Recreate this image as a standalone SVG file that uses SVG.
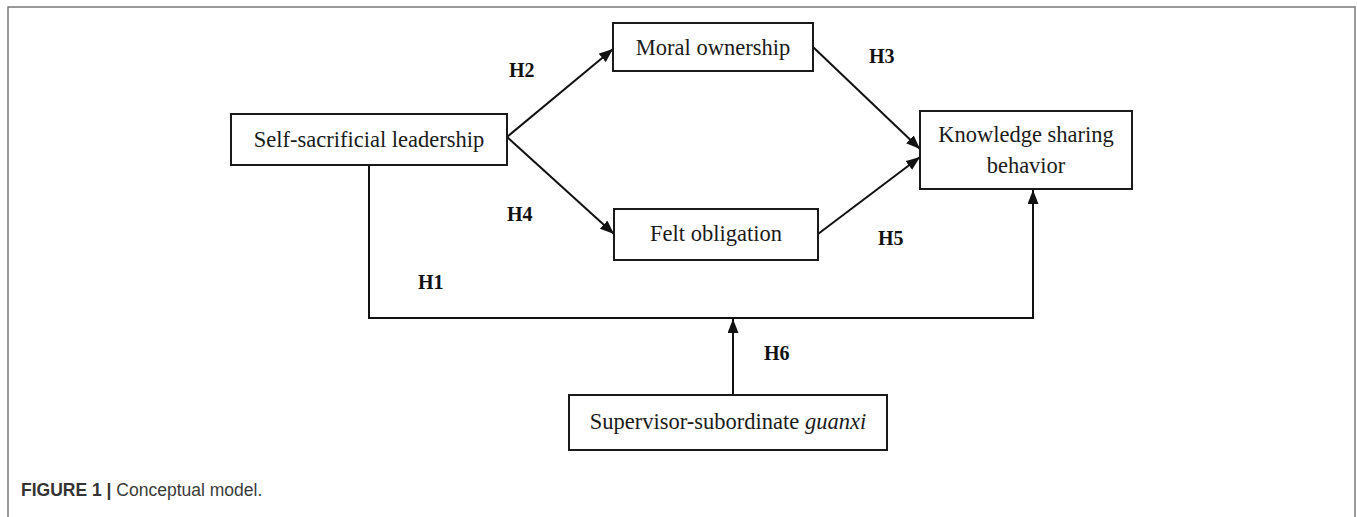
<svg xmlns="http://www.w3.org/2000/svg" width="1357" height="517" viewBox="0 0 1357 517">
<defs>
<style>
.box{fill:#fff;stroke:#1a1a1a;stroke-width:2}
.lbl{font-family:"Liberation Serif",serif;font-size:22.5px;fill:#1a1a1a;text-anchor:middle}
.h{font-family:"Liberation Serif",serif;font-size:20px;font-weight:bold;fill:#111}
.con{fill:none;stroke:#111;stroke-width:2}
.cap{font-family:"Liberation Sans",Arial,sans-serif;font-size:17.5px;fill:#3a3a3a}
</style>
<marker id="arr" viewBox="0 0 14 11" refX="14" refY="5.5" markerWidth="14" markerHeight="11" markerUnits="userSpaceOnUse" orient="auto">
<path d="M0,0 L14,5.5 L0,11 Z" fill="#111"/>
</marker>
</defs>
<rect width="1357" height="517" fill="#fff"/>
<path d="M8,517 L8,7 L1355,7 L1355,517" fill="none" stroke="#7a7a7a" stroke-width="1.5"/>
<g id="connectors">
<line class="con" x1="507" y1="137" x2="613" y2="49" marker-end="url(#arr)"/>
<line class="con" x1="507" y1="137" x2="614" y2="234" marker-end="url(#arr)"/>
<line class="con" x1="813" y1="47" x2="920" y2="149" marker-end="url(#arr)"/>
<line class="con" x1="818" y1="234" x2="920" y2="157" marker-end="url(#arr)"/>
<polyline class="con" points="369,165 369,318 1033,318 1033,190" marker-end="url(#arr)"/>
<line class="con" x1="733" y1="395" x2="733" y2="319" marker-end="url(#arr)"/>
</g>
<g id="labels">
<text class="h" x="509" y="77">H2</text>
<text class="h" x="869" y="63">H3</text>
<text class="h" x="507" y="221">H4</text>
<text class="h" x="878" y="245">H5</text>
<text class="h" x="418" y="289">H1</text>
<text class="h" x="764" y="360">H6</text>
</g>
<g id="self-sacrificial">
<rect class="box" x="231" y="114" width="276" height="51"/>
<text class="lbl" x="369" y="147">Self-sacrificial leadership</text>
</g>
<g id="moral-ownership">
<rect class="box" x="613" y="23" width="200" height="48"/>
<text class="lbl" x="713" y="55">Moral ownership</text>
</g>
<g id="felt-obligation">
<rect class="box" x="614" y="209" width="204" height="51"/>
<text class="lbl" x="716" y="241">Felt obligation</text>
</g>
<g id="knowledge-sharing">
<rect class="box" x="920" y="111" width="212" height="78"/>
<text class="lbl" x="1026" y="142">Knowledge sharing</text>
<text class="lbl" x="1026" y="173">behavior</text>
</g>
<g id="guanxi">
<rect class="box" x="569" y="395" width="318" height="55"/>
<text class="lbl" x="728" y="429">Supervisor-subordinate <tspan font-style="italic">guanxi</tspan></text>
</g>
<text class="cap" x="21" y="496"><tspan font-weight="bold" fill="#333">FIGURE 1 | </tspan>Conceptual model.</text>
</svg>
